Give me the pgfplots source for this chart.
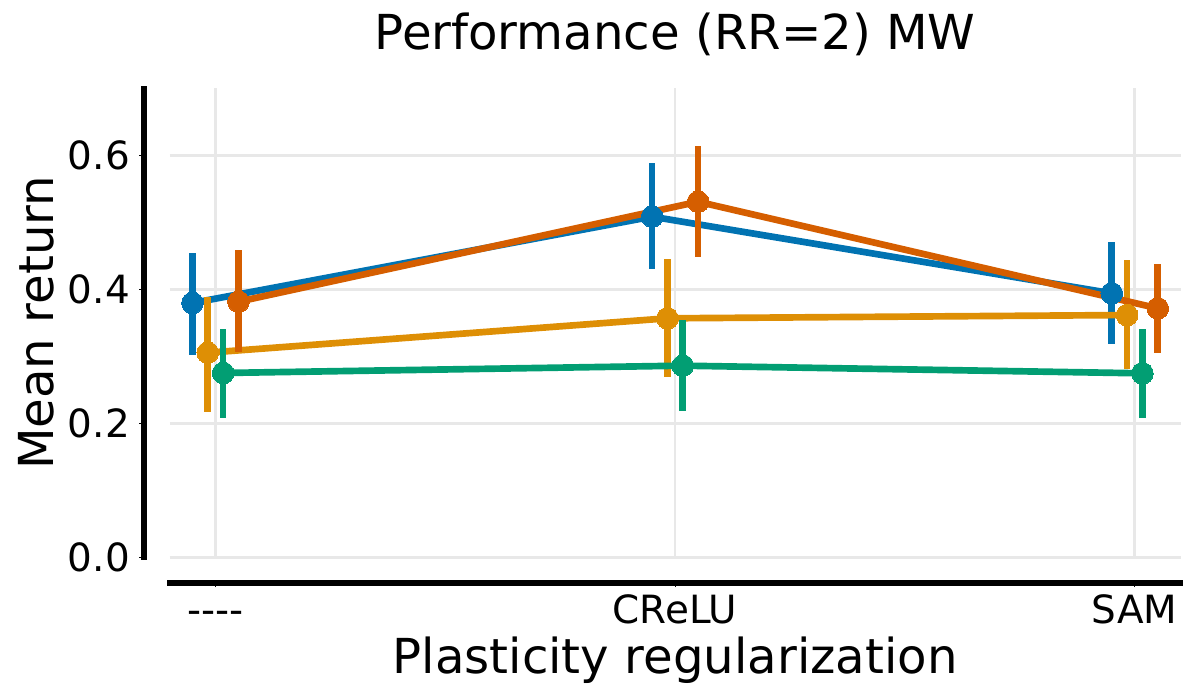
\documentclass[border=0pt]{standalone}
\usepackage{pgfplots}
\pgfplotsset{compat=1.18}
\usepackage{fontspec}
\setmainfont{DejaVu Sans}
\definecolor{cbblue}{RGB}{1,115,178}
\definecolor{cborange}{RGB}{222,143,5}
\definecolor{cbgreen}{RGB}{2,158,115}
\definecolor{cbred}{RGB}{213,94,0}
\definecolor{gridc}{RGB}{232,232,232}
\newcommand{\tickfont}{\fontsize{28bp}{33bp}\selectfont}
\newcommand{\labfont}{\fontsize{34.7bp}{40bp}\selectfont}
\begin{document}
\begin{tikzpicture}
\useasboundingbox (0,0) rectangle (864bp,504bp);
\begin{axis}[
  at={(122.04bp,102.74bp)}, anchor=south west,
  scale only axis, width=728.06bp, height=337.68bp,
  xmin=-0.1, xmax=2.1, ymin=0, ymax=0.7,
  clip=false,
  axis line style={draw=none},
  major tick length=0pt,
  xtick={0,1,2}, xticklabels={-\kern0pt-\kern0pt-\kern0pt-,CReLU,SAM},
  ytick={0,0.2,0.4,0.6},
  yticklabel style={/pgf/number format/fixed,/pgf/number format/fixed zerofill,/pgf/number format/precision=1},
  /pgf/number format/assume math mode=true,
  tick label style={font=\tickfont, inner sep=0pt},
  xticklabel style={anchor=base, yshift=-47.3bp},
  yticklabel style={anchor=east, xshift=-28.4bp},
  grid=major,
  major grid style={color=gridc, line width=1.8bp},
  title={Performance (RR=2) MW},
  title style={font=\labfont, at={(axis description cs:0.5,1.064)}, anchor=base},
  xlabel={Plasticity regularization},
  xlabel style={font=\labfont, at={(axis description cs:0.5,-0.2467)}, anchor=base},
  ylabel={Mean return},
  ylabel style={font=\labfont, at={(axis description cs:-0.1144,0.5)}, anchor=base},
  every axis plot/.append style={line width=4.8bp},
  error bars/error bar style={line width=4.8bp, solid},
  error bars/error mark=none,
]
% blue
\addplot[color=cbblue, mark=*, mark size=7.8bp, mark options={fill=cbblue, line width=0pt},
  error bars/.cd, y dir=both, y explicit]
  coordinates {
  (-0.05,0.3796) += (0,0.0741) -= (0,0.0781)
  (0.95,0.5084) += (0,0.0797) -= (0,0.0785)
  (1.95,0.3940) += (0,0.0761) -= (0,0.0761)
  };
% orange
\addplot[color=cborange, mark=*, mark size=7.8bp, mark options={fill=cborange, line width=0pt},
  error bars/.cd, y dir=both, y explicit]
  coordinates {
  (-0.0167,0.3054) += (0,0.0836) -= (0,0.0881)
  (0.9833,0.3567) += (0,0.0881) -= (0,0.0871)
  (1.9833,0.3616) += (0,0.0821) -= (0,0.0810)
  };
% green
\addplot[color=cbgreen, mark=*, mark size=7.8bp, mark options={fill=cbgreen, line width=0pt},
  error bars/.cd, y dir=both, y explicit]
  coordinates {
  (0.0167,0.2751) += (0,0.0652) -= (0,0.0676)
  (1.0167,0.2860) += (0,0.0682) -= (0,0.0672)
  (2.0167,0.2746) += (0,0.0657) -= (0,0.0662)
  };
% red
\addplot[color=cbred, mark=*, mark size=7.8bp, mark options={fill=cbred, line width=0pt},
  error bars/.cd, y dir=both, y explicit]
  coordinates {
  (0.05,0.3815) += (0,0.0772) -= (0,0.0746)
  (1.05,0.5307) += (0,0.0832) -= (0,0.0829)
  (2.05,0.3716) += (0,0.0662) -= (0,0.0662)
  };
% offset spines
\draw[black, line width=4bp, line cap=rect] ([xshift=-18.5bp]rel axis cs:0,0) -- ([xshift=-18.5bp]rel axis cs:0,1);
\draw[black, line width=4bp, line cap=rect] ([yshift=-18.3bp]rel axis cs:0,0) -- ([yshift=-18.3bp]rel axis cs:1,0);
\pgfplotsinvokeforeach{0,0.2,0.4,0.6}{
  \draw[black, line width=0.8bp] ([xshift=-21.6bp]axis cs:-0.1,#1) -- ([xshift=-18.5bp]axis cs:-0.1,#1);
}
\pgfplotsinvokeforeach{0,1,2}{
  \draw[black, line width=0.8bp] ([yshift=-21.4bp]axis cs:#1,0) -- ([yshift=-18.3bp]axis cs:#1,0);
}
\end{axis}
\end{tikzpicture}
\end{document}
